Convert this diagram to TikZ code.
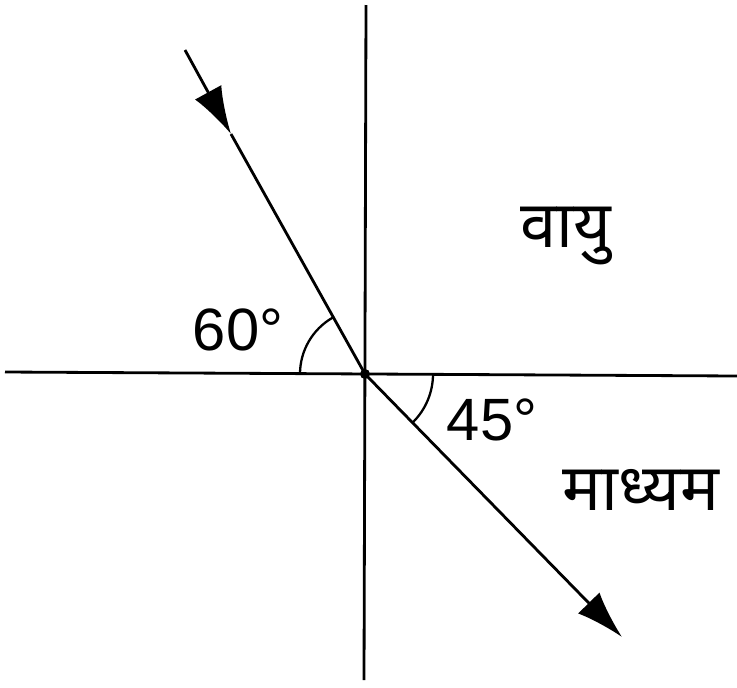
\documentclass[tikz,border=0pt]{standalone}
\usepackage{fontspec}
\setmainfont{Liberation Sans}
\newfontfamily\devfont[Script=Devanagari]{Noto Sans}
\usetikzlibrary{arrows.meta}

\begin{document}
\begin{tikzpicture}[x=0.02cm, y=-0.02cm,
  axis/.style={line width=1.6pt, color=black},
  ray/.style={line width=1.6pt, color=black},
  raytip/.style={line width=1.6pt, -{Latex[length=0.95cm, width=0.6cm]}},
  anglemark/.style={line width=1.3pt},
  anglabel/.style={font=\fontsize{34}{38}\selectfont},
  medtext/.style={font=\devfont\fontsize{37}{42}\selectfont},
]
  \useasboundingbox (0,0) rectangle (737,687);

  % normal and boundary
  \coordinate (O) at (365,374);
  \coordinate (ntop) at (366,5);
  \coordinate (nbot) at (364,680);
  \coordinate (sleft) at (5,372);
  \coordinate (sright) at (737,376);
  \draw[axis] (ntop) -- (nbot);
  \draw[axis] (sleft) -- (sright);
  \fill (O) circle (5);

  % incident ray
  \coordinate (istart) at (185,50);
  \coordinate (itip) at (231,134);
  \draw[raytip] (istart) -- (itip);
  \draw[ray] (itip) -- (O);

  % refracted ray
  \coordinate (rend) at (622,637);
  \draw[raytip] (O) -- (rend);

  % angles
  \draw[anglemark] (O) ++(-65,0) arc[start angle=180, end angle=240, radius=65];
  \draw[anglemark] (O) ++(68,0) arc[start angle=0, end angle=45, radius=68];
  \node[anglabel] (a60) at (238,330) {60°};
  \node[anglabel] (a45) at (492,420) {45°};

  % media
  \node[medtext] (vayu) at (566,236) {वायु};
  \node[medtext] (madhyam) at (641,490) {माध्यम};
\end{tikzpicture}
\end{document}
